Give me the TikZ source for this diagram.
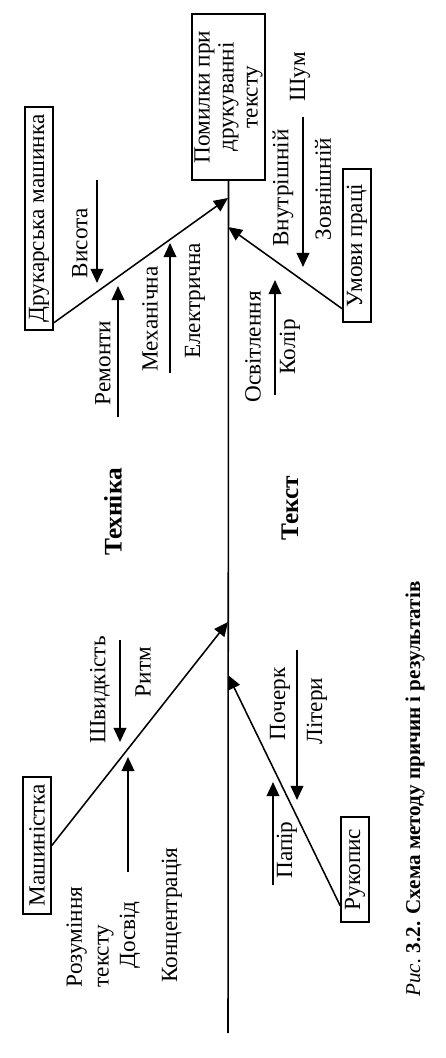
\documentclass[tikz,border=0pt]{standalone}
\usepackage{fontspec}
\setmainfont{Liberation Serif}
\usepackage{tikz}
\usetikzlibrary{arrows.meta,calc}

\begin{document}
\begin{tikzpicture}[x=0.025cm,y=-0.025cm,line width=1.1pt,
    every node/.style={font=\fontsize{16.5}{17}\selectfont,rotate=90,inner sep=1pt},
    causebox/.style={draw,line width=1.1pt,minimum height=0.7cm},
    tip/.style={-{Triangle[length=10pt,width=9pt]}}]
    \useasboundingbox (0,0) rectangle (446,1058);
    \node[causebox,minimum width=4.15cm,minimum height=1.825cm,align=center] (result) at (228.5,97) {Помилки при\\друкуванні\\тексту};
    \node[causebox,minimum width=5.575cm] (mach) at (39,218.5) {Друкарська машинка};
    \node[causebox,minimum width=3.825cm] (umovy) at (357,245.5) {Умови праці};
    \node[causebox,minimum width=3.425cm] (mash) at (37,845.5) {Машиністка};
    \node[causebox,minimum width=2.625cm] (ruk) at (355,869.5) {Рукопис};
    \coordinate (tail) at (228,1033);
    \coordinate (j1) at (228,198);
    \coordinate (j2) at (228,227);
    \coordinate (j3) at (228,622);
    \coordinate (j4) at (228,675);
    \draw (result.west) -- (tail);
    \draw[tip] ($(mach.south west)+(0,-8)$) -- (j1);
    \draw[tip] ($(umovy.north west)+(0,-14)$) -- (j2);
    \draw[tip] (mash.south) -- (j3);
    \draw[tip] ($(ruk.north west)+(0,-17)$) -- (j4);
    \foreach \x/\ya/\yb in {97/180/283,118/417/286,170/373/243,303/117/267,275/395/280,
                            120/640/742,128/872/757,297/650/800,273/885/782}{
      \draw[tip] (\x,\ya) -- (\x,\yb);}
    \foreach \x/\y/\lab [count=\i] in {80/243/Висота,103/363/Ремонти,150/319/Механічна,
        195/301/Електрична,283/188/Внутрішній,300/77/Шум,323/189/Зовнішній,
        253/347/Освітлення,290/347/Колір,100/690/Швидкість,143/672/Ритм,
        130/935/Досвід,172/915/Концентрація,280/704/Почерк,317/711/Літери,287/850/Папір}{
      \node (lab\i) at (\x,\y) {\lab};}
    \node[align=left,font=\fontsize{16.5}{19}\selectfont] (rozum) at (90,937) {Розуміння\\тексту};
    \node[font=\fontsize{18}{20}\selectfont\bfseries] (tekhn) at (113,512) {Техніка};
    \node[font=\fontsize{18}{20}\selectfont\bfseries] (tekst) at (290,508) {Текст};
    \node[font=\fontsize{15}{17}\selectfont\bfseries] (caption) at (415,789) {\textmd{\textit{Рис.}}\ 3.2. Схема методу причин і результатів};
\end{tikzpicture}
\end{document}
